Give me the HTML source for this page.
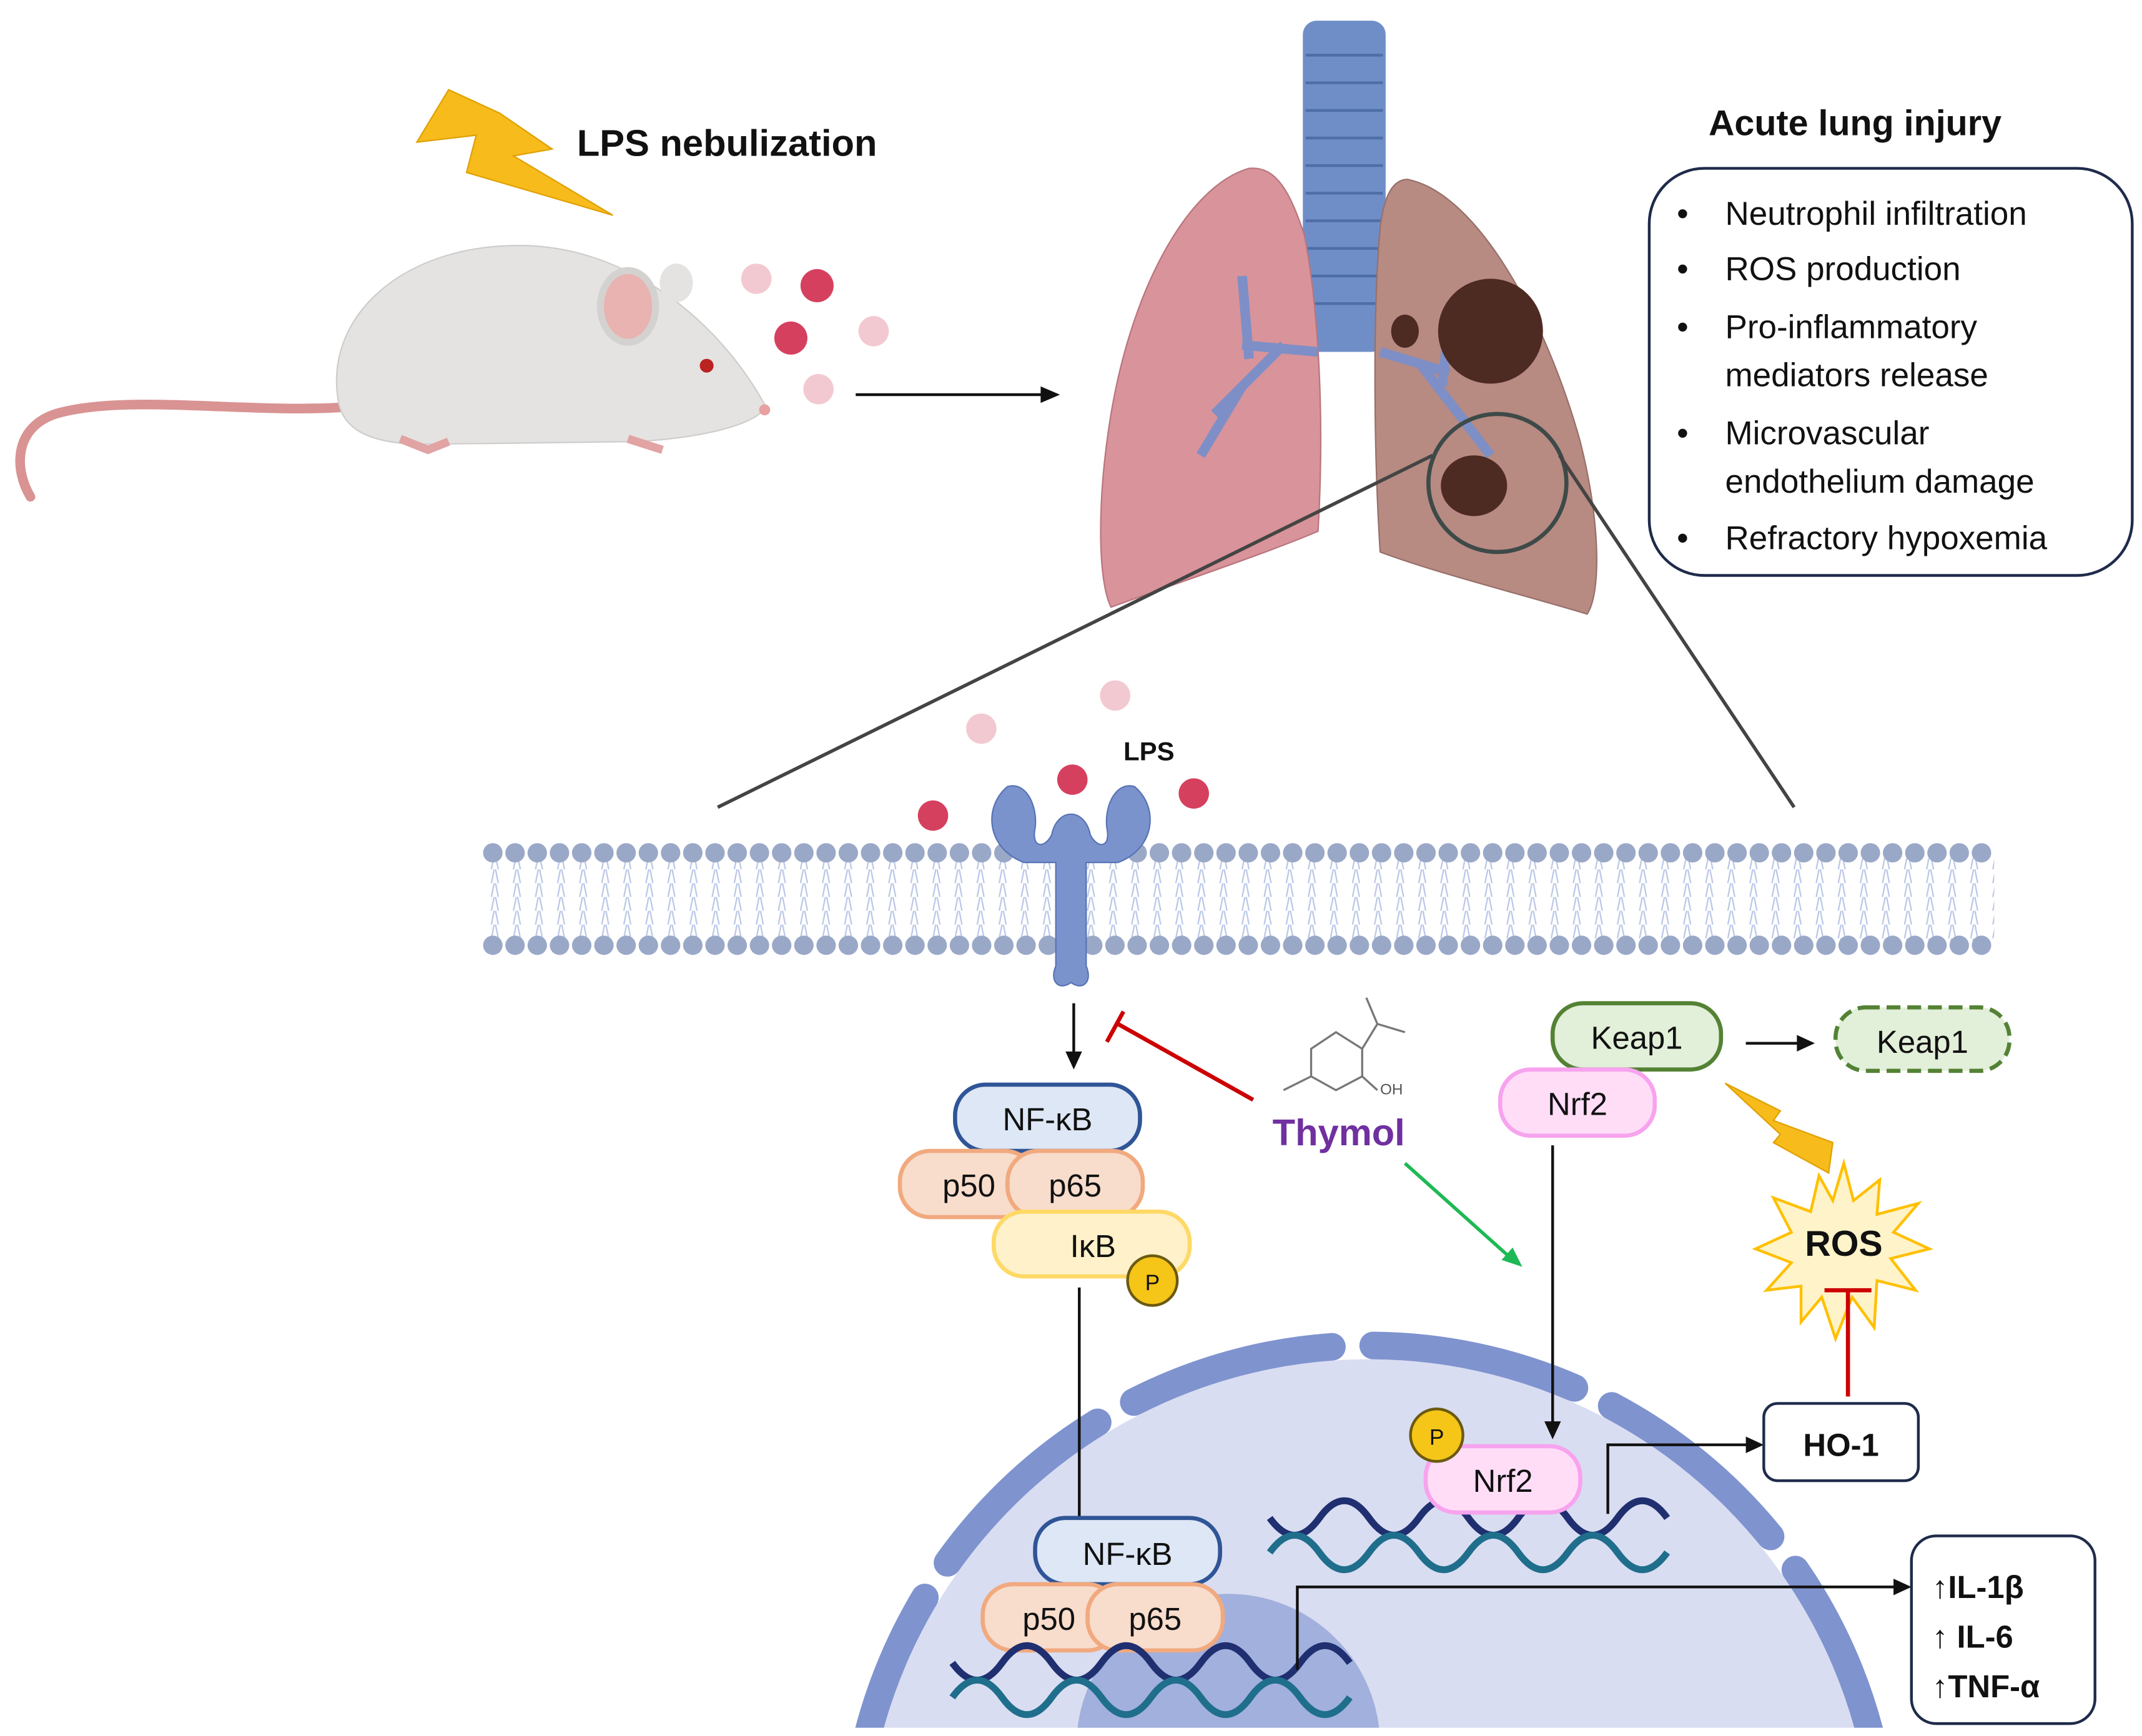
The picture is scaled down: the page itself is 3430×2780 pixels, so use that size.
<!DOCTYPE html>
<html><head><meta charset="utf-8"><style>
html,body{margin:0;padding:0;background:#fff;width:3430px;height:2780px;overflow:hidden;}
svg{display:block;}
text{font-family:"Liberation Sans",sans-serif;}
</style></head><body>
<svg width="3430" height="2780" viewBox="0 0 1552 1258" xmlns="http://www.w3.org/2000/svg">
<defs>
<clipPath id="cl"><rect x="0" y="0" width="1552" height="1252"/></clipPath>
<pattern id="mem" x="350" y="0" width="16" height="10" patternUnits="userSpaceOnUse">
<path d="M8 0 L6 10 M9 0 L11 10" stroke="#b9c6e6" stroke-width="1" fill="none"/>
</pattern>
</defs>
<rect width="1552" height="1258" fill="#fff"/>

<polygon points="325,65 302,103 345,98 338,125 444,156 372,113 400,108 362,82" fill="#f7bb1c" stroke="#e0a000" stroke-width="1"/>
<text x="418" y="113" font-size="27" font-weight="bold" fill="#111">LPS nebulization</text>

<path d="M250,295 C180,300 90,285 40,300 C10,310 10,340 22,360" stroke="#d99393" stroke-width="7" fill="none" stroke-linecap="round"/>
<path d="M245,290 C235,230 290,180 370,178 C450,175 520,230 555,295 C545,310 500,318 460,320 L300,322 C265,320 248,310 245,290Z" fill="#e4e3e1" stroke="#cfcdcb"/>
<ellipse cx="455" cy="222" rx="20" ry="26" fill="#e8b3b0" stroke="#d4d2d0" stroke-width="5"/>
<ellipse cx="490" cy="205" rx="12" ry="14" fill="#e4e3e1"/>
<circle cx="512" cy="265" r="5" fill="#b22"/>
<circle cx="554" cy="297" r="4" fill="#e8a0a0"/>
<path d="M290,318 l20,8 l15,-6 M455,318 l25,8" stroke="#e1a3a3" stroke-width="6" fill="none"/>
<circle cx="548" cy="202" r="11" fill="#f3c9d1"/>
<circle cx="592" cy="207" r="12" fill="#d6405f"/>
<circle cx="573" cy="245" r="12" fill="#d6405f"/>
<circle cx="633" cy="240" r="11" fill="#f3c9d1"/>
<circle cx="593" cy="282" r="11" fill="#f3c9d1"/>
<line x1="620" y1="286" x2="758" y2="286" stroke="#111" stroke-width="2"/>
<polygon points="768,286 754,280 754,292" fill="#111"/>

<rect x="944" y="15" width="60" height="240" rx="10" fill="#6f8ec8"/>
<g stroke="#4e6ea8" stroke-width="2">
<line x1="946" y1="40" x2="1002" y2="40"/><line x1="946" y1="60" x2="1002" y2="60"/><line x1="946" y1="80" x2="1002" y2="80"/><line x1="946" y1="100" x2="1002" y2="100"/><line x1="946" y1="120" x2="1002" y2="120"/><line x1="946" y1="140" x2="1002" y2="140"/><line x1="946" y1="160" x2="1002" y2="160"/><line x1="946" y1="180" x2="1002" y2="180"/><line x1="946" y1="200" x2="1002" y2="200"/><line x1="946" y1="220" x2="1002" y2="220"/></g>
<path d="M905,122 C860,135 820,210 805,300 C795,360 795,420 805,440 C860,420 920,400 955,385 C960,300 955,220 945,170 C935,140 925,120 905,122Z" fill="#d9939a" stroke="#b9757c"/>
<path d="M1020,130 C1070,140 1120,230 1145,320 C1160,380 1160,430 1150,445 C1100,430 1040,415 1000,400 C995,320 995,220 1000,165 C1003,140 1010,130 1020,130Z" fill="#b78a82" stroke="#97706a"/>
<path d="M955,255 L900,250 M930,250 L880,300 M900,200 L905,260 M870,330 L900,280 M1000,255 L1050,270 M1030,265 L1080,330 M1050,230 L1045,280" stroke="#7d8fc6" stroke-width="7" fill="none"/>
<ellipse cx="1080" cy="240" rx="38" ry="38" fill="#4d2a22"/>
<ellipse cx="1018" cy="240" rx="10" ry="12" fill="#4d2a22"/>
<ellipse cx="1068" cy="352" rx="24" ry="22" fill="#4d2a22"/>
<circle cx="1085" cy="350" r="50" fill="none" stroke="#3d4a48" stroke-width="3"/>
<line x1="520" y1="585" x2="1038" y2="330" stroke="#444" stroke-width="2.5"/>
<line x1="1300" y1="585" x2="1130" y2="330" stroke="#444" stroke-width="2.5"/>

<text x="1238" y="98" font-size="26" font-weight="bold" fill="#111">Acute lung injury</text>
<rect x="1195" y="122" width="350" height="295" rx="40" fill="#fff" stroke="#1f2b4a" stroke-width="2"/>
<g font-size="24" fill="#111">
<text x="1215" y="163">•</text><text x="1250" y="163">Neutrophil infiltration</text>
<text x="1215" y="203">•</text><text x="1250" y="203">ROS production</text>
<text x="1215" y="245">•</text><text x="1250" y="245">Pro-inflammatory</text>
<text x="1250" y="280">mediators release</text>
<text x="1215" y="322">•</text><text x="1250" y="322">Microvascular</text>
<text x="1250" y="357">endothelium damage</text>
<text x="1215" y="398">•</text><text x="1250" y="398">Refractory hypoxemia</text>
</g>

<rect x="350" y="622" width="1095" height="60" fill="url(#mem)"/>
<line x1="357" y1="618" x2="1440" y2="618" stroke="#9aa8c8" stroke-width="14" stroke-linecap="round" stroke-dasharray="0.1 16"/>
<line x1="357" y1="685" x2="1440" y2="685" stroke="#9aa8c8" stroke-width="14" stroke-linecap="round" stroke-dasharray="0.1 16"/>

<path d="M730,570 C712,585 715,615 742,625 L765,625 L765,700 C760,712 768,718 776,712 C784,718 792,712 787,700 L787,625 L810,625 C837,615 840,585 822,570 C808,566 800,585 802,600 C805,615 795,615 790,605 C786,585 766,585 762,605 C757,615 747,615 750,600 C752,585 744,566 730,570Z" fill="#7b93cd" stroke="#5873b5"/>
<circle cx="777" cy="565" r="11" fill="#d6405f"/>
<circle cx="711" cy="528" r="11" fill="#f3c9d1"/>
<circle cx="808" cy="504" r="11" fill="#f3c9d1"/>
<circle cx="676" cy="591" r="11" fill="#d6405f"/>
<circle cx="865" cy="575" r="11" fill="#d6405f"/>
<text x="814" y="551" font-size="19" font-weight="bold" fill="#111">LPS</text>

<g clip-path="url(#cl)">
<circle cx="992" cy="1350" r="365" fill="#d9ddf1"/>
<circle cx="890" cy="1265" r="110" fill="#a2b0dd"/>
<circle cx="992" cy="1350" r="375" fill="none" stroke="#7f93cf" stroke-width="20" stroke-dasharray="150 30" stroke-dashoffset="30" stroke-linecap="round"/>
</g>

<line x1="778" y1="727" x2="778" y2="765" stroke="#111" stroke-width="2"/>
<polygon points="778,775 772,762 784,762" fill="#111"/>
<line x1="908" y1="797" x2="810" y2="742" stroke="#c00" stroke-width="3"/>
<line x1="802" y1="755" x2="814" y2="733" stroke="#c00" stroke-width="3"/>

<rect x="692" y="786" width="134" height="48" rx="22" fill="#dde7f5" stroke="#2f5597" stroke-width="3"/>
<text x="759" y="819" font-size="23" text-anchor="middle" fill="#111">NF-κB</text>
<rect x="652" y="834" width="98" height="48" rx="22" fill="#f8dccc" stroke="#f1a97e" stroke-width="3"/>
<rect x="730" y="834" width="98" height="48" rx="22" fill="#f8dccc" stroke="#f1a97e" stroke-width="3"/>
<text x="702" y="867" font-size="23" text-anchor="middle" fill="#111">p50</text>
<text x="779" y="867" font-size="23" text-anchor="middle" fill="#111">p65</text>
<rect x="720" y="878" width="142" height="47" rx="22" fill="#fff1c9" stroke="#ffd966" stroke-width="3"/>
<text x="792" y="911" font-size="23" text-anchor="middle" fill="#111">IκB</text>
<circle cx="835" cy="928" r="18" fill="#f5c518" stroke="#6b5a10" stroke-width="2"/>
<text x="835" y="935" font-size="16" text-anchor="middle" fill="#111">P</text>
<line x1="782" y1="933" x2="782" y2="1110" stroke="#111" stroke-width="2"/>
<polygon points="782,1120 776,1107 788,1107" fill="#111"/>

<rect x="750" y="1100" width="134" height="48" rx="22" fill="#dde7f5" stroke="#2f5597" stroke-width="3"/>
<text x="817" y="1134" font-size="23" text-anchor="middle" fill="#111">NF-κB</text>
<rect x="712" y="1148" width="98" height="48" rx="22" fill="#f8dccc" stroke="#f1a97e" stroke-width="3"/>
<rect x="788" y="1148" width="98" height="48" rx="22" fill="#f8dccc" stroke="#f1a97e" stroke-width="3"/>
<text x="760" y="1181" font-size="23" text-anchor="middle" fill="#111">p50</text>
<text x="837" y="1181" font-size="23" text-anchor="middle" fill="#111">p65</text>

<path d="M690,1205 q18,25 36,0 t36,0 t36,0 t36,0 t36,0 t36,0 t36,0 t36,0" stroke="#1f2f70" stroke-width="5" fill="none"/>
<path d="M690,1230 q18,-25 36,0 t36,0 t36,0 t36,0 t36,0 t36,0 t36,0 t36,0" stroke="#1f6e8c" stroke-width="5" fill="none"/>
<path d="M920,1100 q18,25 36,0 t36,0 t36,0 t36,0 t36,0 t36,0 t36,0 t36,0" stroke="#1f2f70" stroke-width="5" fill="none"/>
<path d="M920,1125 q18,-25 36,0 t36,0 t36,0 t36,0 t36,0 t36,0 t36,0 t36,0" stroke="#1f6e8c" stroke-width="5" fill="none"/>

<polyline points="940,1210 940,1150 1375,1150" stroke="#111" stroke-width="2" fill="none"/>
<polygon points="1385,1150 1372,1144 1372,1156" fill="#111"/>
<rect x="1385" y="1113" width="133" height="136" rx="18" fill="#fff" stroke="#1f2b4a" stroke-width="2"/>
<g font-size="23" font-weight="bold" fill="#111">
<text x="1400" y="1158">↑IL-1β</text><text x="1400" y="1194">↑ IL-6</text><text x="1400" y="1230">↑TNF-α</text></g>

<g stroke="#777" stroke-width="1.5" fill="none">
<polygon points="950,760 968,748 987,760 987,780 968,790 950,780"/>
<path d="M987,760 L998,742 L990,723 M998,742 L1018,748 M950,780 L930,790 M987,780 L998,790"/>
</g>
<text x="1000" y="793" font-size="11" fill="#555">OH</text>
<text x="922" y="830" font-size="27" font-weight="bold" fill="#7030a0">Thymol</text>
<line x1="1018" y1="843" x2="1095" y2="912" stroke="#1db954" stroke-width="2.5"/>
<polygon points="1103,918 1088,913 1096,904" fill="#1db954"/>

<rect x="1125" y="727" width="122" height="48" rx="22" fill="#e2efd9" stroke="#548235" stroke-width="3"/>
<text x="1186" y="760" font-size="23" text-anchor="middle" fill="#111">Keap1</text>
<rect x="1330" y="730" width="126" height="46" rx="22" fill="#e2efd9" stroke="#548235" stroke-width="3" stroke-dasharray="10 5"/>
<text x="1393" y="763" font-size="23" text-anchor="middle" fill="#111">Keap1</text>
<line x1="1265" y1="756" x2="1305" y2="756" stroke="#111" stroke-width="2"/>
<polygon points="1315,756 1302,750 1302,762" fill="#111"/>
<rect x="1087" y="775" width="112" height="48" rx="22" fill="#ffddf7" stroke="#f7a3ee" stroke-width="3"/>
<text x="1143" y="808" font-size="23" text-anchor="middle" fill="#111">Nrf2</text>
<line x1="1125" y1="830" x2="1125" y2="1032" stroke="#111" stroke-width="2"/>
<polygon points="1125,1043 1119,1030 1131,1030" fill="#111"/>
<polygon points="1250,785 1290,805 1285,812 1328,828 1325,850 1285,828 1290,822" fill="#f7bb1c" stroke="#e0a000"/>
<polygon points="1336,843 1343,870 1362,855 1360,880 1390,872 1372,893 1398,905 1370,912 1388,935 1360,928 1358,962 1342,940 1330,970 1320,940 1305,958 1305,932 1280,935 1298,915 1272,905 1298,893 1285,868 1312,878 1318,852 1328,870" fill="#fff3c9" stroke="#ffc000" stroke-width="2"/>
<text x="1336" y="910" font-size="26" font-weight="bold" text-anchor="middle" fill="#111">ROS</text>
<line x1="1339" y1="1012" x2="1339" y2="935" stroke="#c00" stroke-width="3"/>
<line x1="1322" y1="935" x2="1356" y2="935" stroke="#c00" stroke-width="3"/>

<rect x="1033" y="1048" width="112" height="48" rx="22" fill="#ffddf7" stroke="#f7a3ee" stroke-width="3"/>
<text x="1089" y="1081" font-size="23" text-anchor="middle" fill="#111">Nrf2</text>
<circle cx="1041" cy="1040" r="19" fill="#f5c518" stroke="#6b5a10" stroke-width="2"/>
<text x="1041" y="1047" font-size="16" text-anchor="middle" fill="#111">P</text>
<polyline points="1165,1097 1165,1047 1268,1047" stroke="#111" stroke-width="2" fill="none"/>
<polygon points="1278,1047 1265,1041 1265,1053" fill="#111"/>
<rect x="1278" y="1017" width="112" height="56" rx="10" fill="#fff" stroke="#1f2b4a" stroke-width="2"/>
<text x="1334" y="1055" font-size="23" font-weight="bold" text-anchor="middle" fill="#111">HO-1</text>
</svg>
</body></html>
